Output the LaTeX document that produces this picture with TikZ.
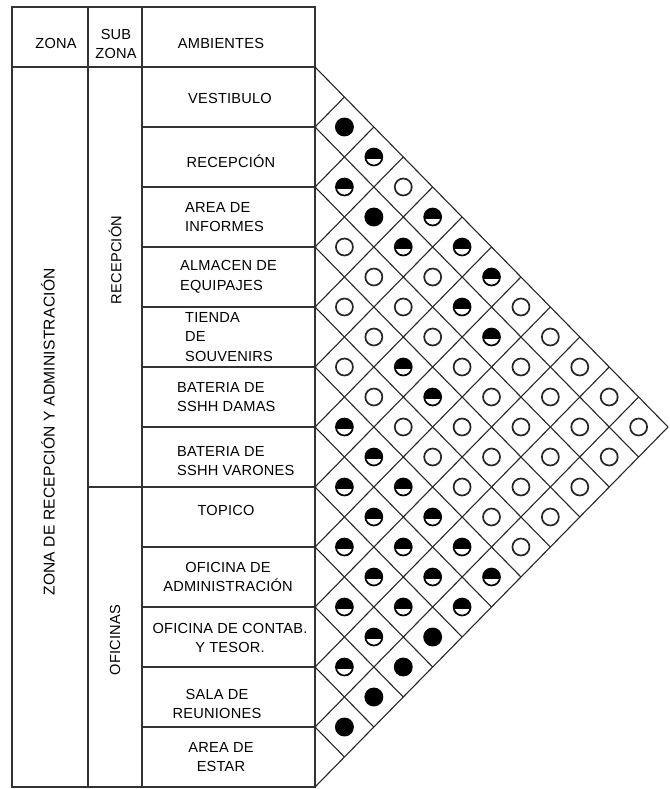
\documentclass[tikz,border=0pt]{standalone}
\usepackage{fontspec}
\setmainfont{Liberation Sans}[LetterSpace=1.5]
\newcommand{\mcol}[2]{%
  \foreach \s [count=\a] in {#2} {%
    \node[sym\s] (m-#1-\a) at ({315+#1*29.42},{67+30*(2*\a+#1-1)}) {};
  }%
}
\begin{document}
\begin{tikzpicture}[x={(1pt,0)},y={(0,-1pt)},
  tline/.style={line width=1.6pt, draw=black!80},
  dline/.style={line width=1.1pt, draw=black!85},
  txt/.style={inner sep=0pt, font=\fontsize{14.6}{19.5}\selectfont, text=black},
  symF/.style={circle, fill=black, draw=black, line width=1.4pt, minimum size=17.5pt, inner sep=0pt},
  symE/.style={circle, draw=black!85, line width=1.7pt, minimum size=17pt, inner sep=0pt},
  symH/.style={circle, draw=black, line width=1.7pt, minimum size=17pt, inner sep=0pt,
    path picture={\fill[black] ([yshift=-1.5pt]path picture bounding box.west) rectangle (path picture bounding box.north east);}},
]
\useasboundingbox (0,0) rectangle (669,789);
% table frame
\draw[tline] (12,7) rectangle (315,787);
\draw[tline] (12,67) -- (315,67);
\draw[tline] (88,7) -- (88,787);
\draw[tline] (142,7) -- (142,787);
\draw[tline] (88,487) -- (142,487);
\foreach \i in {1,...,11} { \draw[tline] (142,{67+60*\i}) -- (315,{67+60*\i}); }
% matrix lines
\foreach \i in {0,...,12} {
  \coordinate (b\i) at (315,{67+60*\i});
  \coordinate (d\i) at ({315+(12-\i)*29.42},{427+30*\i});
  \coordinate (u\i) at ({315+\i*29.42},{67+30*\i});
}
\foreach \i in {0,...,11} { \draw[dline] (b\i) -- (d\i); }
\foreach \i in {1,...,12} { \draw[dline] (b\i) -- (u\i); }
% symbols
\mcol{1}{F,H,E,E,E,H,H,H,H,H,F}
\mcol{2}{H,F,E,E,E,H,H,H,H,F}
\mcol{3}{E,H,E,H,E,H,H,H,F}
\mcol{4}{H,E,E,H,E,H,H,F}
\mcol{5}{H,H,E,E,E,H,H}
\mcol{6}{H,H,E,E,E,H}
\mcol{7}{E,E,E,E,E}
\mcol{8}{E,E,E,E}
\mcol{9}{E,E,E}
\mcol{10}{E,E}
\mcol{11}{E}
% header
\node[txt] (hzona) at (56,43) {ZONA};
\node[txt, align=center] (hsub) at (116,44) {SUB\\ZONA};
\node[txt] (hamb) at (221,43) {AMBIENTES};
% rotated
\node[txt, rotate=90, font=\fontsize{15.6}{17}\selectfont] (zona) at (48,432) {ZONA DE RECEPCIÓN Y ADMINISTRACIÓN};
\node[txt, rotate=90] (szrec) at (115,260) {RECEPCIÓN};
\node[txt, rotate=90] (szofi) at (115,640) {OFICINAS};
% ambientes
\node[txt] (r1) at (230,98) {VESTIBULO};
\node[txt] (r2) at (231,161) {RECEPCIÓN};
\node[txt, align=left, anchor=west] (r3) at (185,217) {AREA DE\\INFORMES};
\node[txt, align=left, anchor=west] (r4) at (180,277) {ALMACEN DE\\EQUIPAJES};
\node[txt, align=left, anchor=west] (r5) at (185,337) {TIENDA\\DE\\SOUVENIRS};
\node[txt, align=left, anchor=west] (r6) at (177,397) {BATERIA DE\\SSHH DAMAS};
\node[txt, align=left, anchor=west] (r7) at (177,461) {BATERIA DE\\SSHH VARONES};
\node[txt] (r8) at (226,510) {TOPICO};
\node[txt, align=center] (r9) at (228,577) {OFICINA DE\\ADMINISTRACIÓN};
\node[txt, align=center] (r10) at (230,638) {OFICINA DE CONTAB.\\Y TESOR.};
\node[txt, align=center] (r11) at (217,704) {SALA DE\\REUNIONES};
\node[txt, align=center] (r12) at (221,757) {AREA DE\\ESTAR};
\end{tikzpicture}
\end{document}
